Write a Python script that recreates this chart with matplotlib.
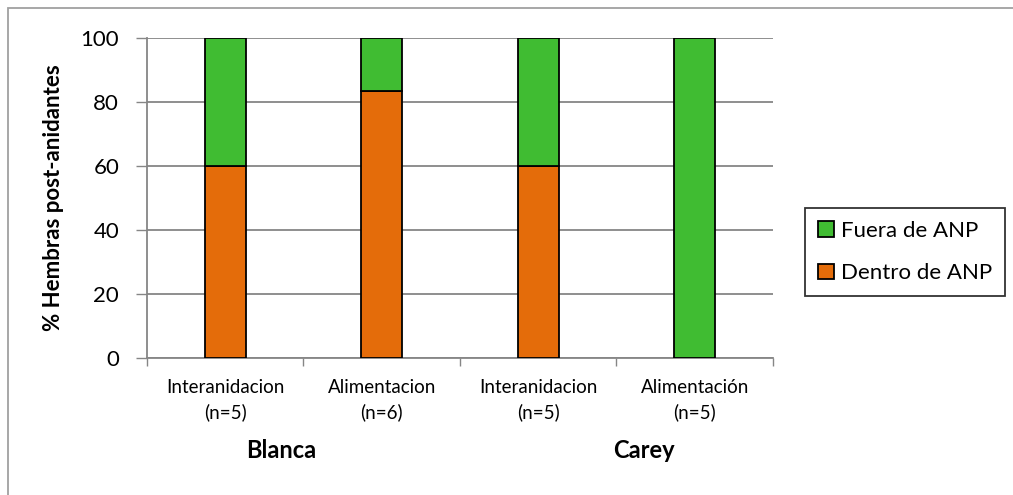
import matplotlib.pyplot as plt
from matplotlib.patches import Rectangle

plt.rcParams['font.family'] = ['Lato', 'DejaVu Sans']

categories = ["Interanidacion\n(n=5)", "Alimentacion\n(n=6)",
              "Interanidacion\n(n=5)", "Alimentación\n(n=5)"]
dentro = [60, 83.3, 60, 0]
fuera = [40, 16.7, 40, 100]
groups = ["Blanca", "Carey"]

green = "#40BC32"
orange = "#E46C0A"
grid = "#868686"

fig = plt.figure(figsize=(10.13, 4.95), dpi=100)
ax = fig.add_axes([0.1451, 0.2768, 0.6179, 0.6464])

x = list(range(len(categories)))
w = 0.26
ax.bar(x, dentro, w, color=orange, edgecolor="black", linewidth=1.3,
       label="Dentro de ANP", zorder=3)
ax.bar(x, fuera, w, bottom=dentro, color=green, edgecolor="black",
       linewidth=1.3, label="Fuera de ANP", zorder=3)

ax.set_xlim(-0.5, 3.5)
ax.set_ylim(0, 100)
ax.set_yticks(range(0, 101, 20))
ax.tick_params(axis="y", labelsize=16, length=8, color=grid, width=1, pad=12)
ax.yaxis.grid(True, color=grid, linewidth=1.3, zorder=0)

# category boundaries carry the x ticks, labels sit between them
ax.set_xticks([-0.5, 0.5, 1.5, 2.5, 3.5])
ax.set_xticklabels([])
ax.set_xticks(x, minor=True)
ax.set_xticklabels(categories, minor=True, fontsize=13.5, linespacing=1.5)
ax.tick_params(axis="x", which="major", length=6, color=grid, width=1)
ax.tick_params(axis="x", which="minor", length=0, pad=15)

for side in ["top", "right"]:
    ax.spines[side].set_visible(False)
for side in ["left", "bottom"]:
    ax.spines[side].set_color(grid)
    ax.spines[side].set_linewidth(1.3)

ax.set_ylabel("% Hembras post-anidantes", fontsize=16, fontweight="bold",
              labelpad=12)

fig.text(281 / 1013, 1 - 450 / 495, groups[0], fontsize=17,
         fontweight="bold", ha="center", va="center")
fig.text(644 / 1013, 1 - 450 / 495, groups[1], fontsize=17,
         fontweight="bold", ha="center", va="center")

h, l = ax.get_legend_handles_labels()
leg = fig.legend(h[::-1], l[::-1], loc="center", fontsize=16,
                 bbox_to_anchor=(905 / 1013, 1 - 252 / 495),
                 frameon=True, fancybox=False, edgecolor="black",
                 handlelength=0.7, handleheight=0.7, handletextpad=0.3,
                 labelspacing=1.0, borderpad=0.6, borderaxespad=0)
leg.get_frame().set_linewidth(1.3)

# chart area outline
fig.patches.append(Rectangle((8 / 1013, -0.1), 1.2, 1 - 8 / 495 + 0.1,
                             transform=fig.transFigure, fill=False,
                             edgecolor="#A0A0A0", linewidth=1.3))

fig.savefig("out.png", dpi=100)
